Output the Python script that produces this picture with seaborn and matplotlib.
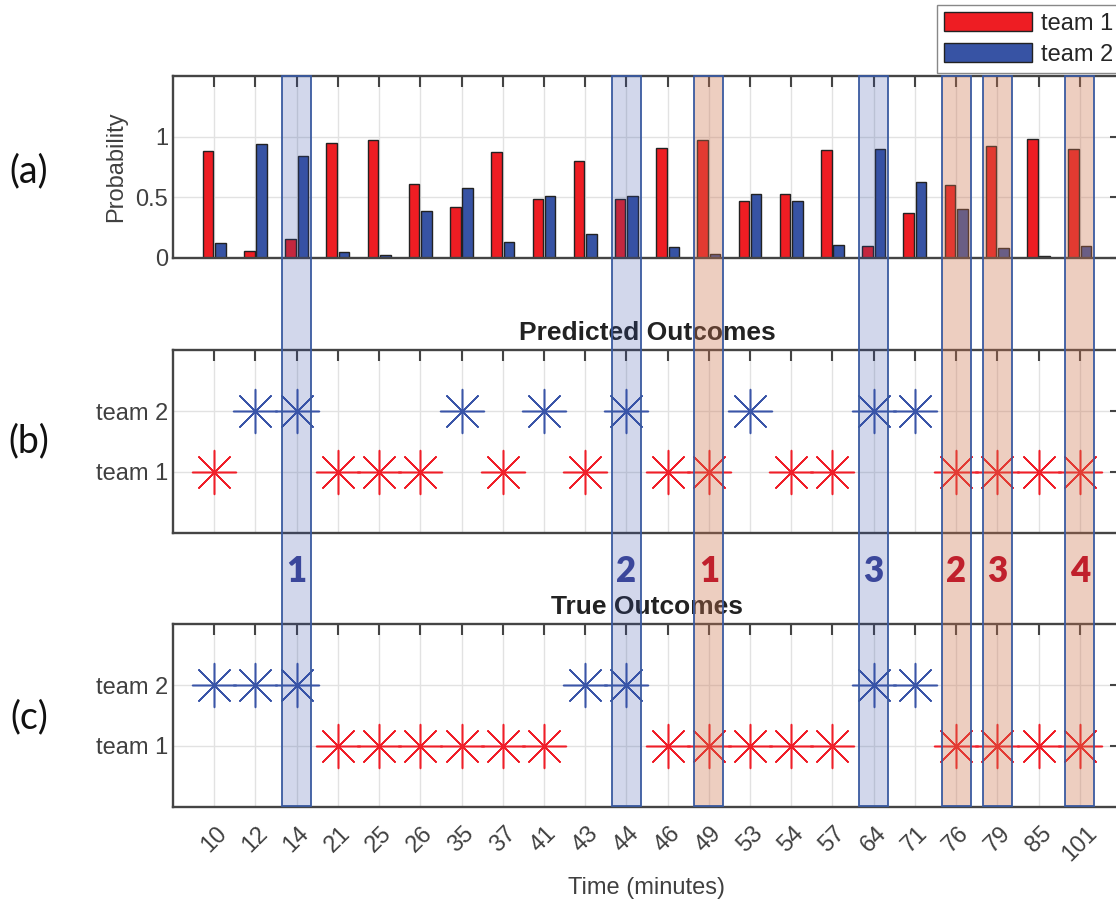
import numpy as np
import pandas as pd
import matplotlib
matplotlib.use("Agg")
import matplotlib.pyplot as plt
import seaborn as sns
from matplotlib.patches import Rectangle
from matplotlib.transforms import blended_transform_factory

# ---------------- data ----------------
times = ["10", "12", "14", "21", "25", "26", "35", "37", "41", "43", "44",
         "46", "49", "53", "54", "57", "64", "71", "76", "79", "85", "101"]
p_team1 = [0.88, 0.055, 0.16, 0.95, 0.97, 0.61, 0.42, 0.87, 0.49, 0.80, 0.49,
           0.91, 0.97, 0.47, 0.53, 0.89, 0.10, 0.37, 0.60, 0.92, 0.98, 0.90]
p_team2 = [0.12, 0.94, 0.84, 0.05, 0.025, 0.39, 0.58, 0.13, 0.51, 0.20, 0.51,
           0.09, 0.03, 0.53, 0.47, 0.11, 0.90, 0.63, 0.40, 0.08, 0.02, 0.10]
predicted = [1, 2, 2, 1, 1, 1, 2, 1, 2, 1, 2, 1, 1, 2, 1, 1, 2, 2, 1, 1, 1, 1]
actual = [2, 2, 2, 1, 1, 1, 1, 1, 1, 2, 2, 1, 1, 1, 1, 1, 2, 2, 1, 1, 1, 1]
team_labels = ["team 1", "team 2"]
hl_blue = ["14", "44", "64"]
hl_red = ["49", "76", "79", "101"]
panel_tags = ["(a)", "(b)", "(c)"]

RED = "#ee1d23"
BLUE = "#3753a4"
MRED = "#f01e28"
MBLUE = "#3a55a8"

# ---------------- style ----------------
sns.set_theme(style="whitegrid")
plt.rcParams["font.family"] = ["Liberation Sans", "DejaVu Sans"]

fig = plt.figure(figsize=(11.16, 9), dpi=100)
L = 173 / 1116
W = 948 / 1116
ax1 = fig.add_axes([L, 1 - 258 / 900, W, 182 / 900])
ax2 = fig.add_axes([L, 1 - 533 / 900, W, 183 / 900])
ax3 = fig.add_axes([L, 1 - 807 / 900, W, 183 / 900])

n = len(times)
xpos = np.arange(n)


def style_ax(ax):
    ax.set_facecolor("white")
    ax.set_xlim(-1, n)
    ax.set_xticks(xpos)
    ax.tick_params(axis="both", direction="in", length=8, width=1.5,
                   color="#444444", top=True, right=True, labelsize=17,
                   labelcolor="#404040")
    for s in ax.spines.values():
        s.set_visible(True)
        s.set_color("#444444")
        s.set_linewidth(1.7)
    ax.grid(True, color="#e2e2e2", linewidth=1)
    ax.set_axisbelow(True)


# ---------------- (a) bars ----------------
df = pd.DataFrame({
    "time": times * 2,
    "prob": p_team1 + p_team2,
    "team": [team_labels[0]] * n + [team_labels[1]] * n,
})
sns.barplot(data=df, x="time", y="prob", hue="team", order=times,
            hue_order=team_labels, palette=[RED, BLUE], width=0.6, gap=0.15,
            edgecolor="#222222", linewidth=1.0, saturation=1, ax=ax1)
handles, labels = ax1.get_legend_handles_labels()
if ax1.get_legend() is not None:
    ax1.get_legend().remove()
style_ax(ax1)
ax1.set_ylim(0, 1.5)
ax1.set_yticks([0, 0.5, 1], ["0", "0.5", "1"])
ax1.tick_params(labelbottom=False)
ax1.set_xlabel("")
ax1.set_ylabel("Probability", fontsize=17, color="#404040", labelpad=6)


# ---------------- (b), (c) outcomes ----------------
def outcome_panel(ax, outcome, title):
    for k, c in zip([1, 2], [MRED, MBLUE]):
        idx = [i for i in range(n) if outcome[i] == k]
        sns.scatterplot(x=idx, y=[k] * len(idx), marker=(8, 2, 0), s=1000,
                        color=c, linewidth=1.1, ax=ax, zorder=3)
    style_ax(ax)
    ax.set_ylim(0, 3)
    ax.set_yticks([1, 2], team_labels)
    ax.set_xlabel("")
    ax.set_ylabel("")
    ax.set_title(title, fontsize=19, fontweight="bold", color="#222222", pad=7)


outcome_panel(ax2, predicted, "Predicted Outcomes")
ax2.tick_params(labelbottom=False)
outcome_panel(ax3, actual, "True Outcomes")
ax3.set_xticks(xpos, times, rotation=45, ha="center")
ax3.tick_params(axis="x", pad=11)
ax3.set_xlabel("Time (minutes)", fontsize=17, color="#404040", labelpad=8)

# ---------------- legend ----------------
fig.legend(handles, labels, loc="upper right", bbox_to_anchor=(1.004, 0.995),
           fontsize=17, handlelength=3.7, handleheight=0.9, handletextpad=0.4,
           borderpad=0.3, labelspacing=0.35, borderaxespad=0, fancybox=False,
           framealpha=1, edgecolor="#888888", frameon=True)

# ---------------- highlight bands ----------------
blend = blended_transform_factory(ax3.transData, fig.transFigure)
y_bot = 1 - 806 / 900
y_top = 1 - 76 / 900
for lst, fc, al, tc in [(hl_blue, (0.2, 0.3, 0.65), 0.22, "#3b479b"),
                        (hl_red, (0.8, 0.45, 0.3), 0.35, "#c0202c")]:
    for j, t in enumerate(lst):
        xi = times.index(t)
        r = Rectangle((xi - 0.35, y_bot), 0.7, y_top - y_bot, transform=blend,
                      facecolor=(*fc, al), edgecolor="#3a5aa0", linewidth=1.3,
                      zorder=10)
        fig.add_artist(r)
        fig.text(xi, 1 - 572 / 900, str(j + 1), transform=blend, ha="center",
                 va="center", fontsize=25, fontweight="heavy", color=tc,
                 family=["Lato", "DejaVu Sans"], zorder=11)

# ---------------- panel tags ----------------
for tag, yy in zip(panel_tags, [171, 441, 717]):
    fig.text(29 / 1116, 1 - yy / 900, tag, ha="center", va="center",
             fontsize=27, color="#111111", family=["Lato", "DejaVu Sans"])

fig.savefig("out.png", dpi=100)
